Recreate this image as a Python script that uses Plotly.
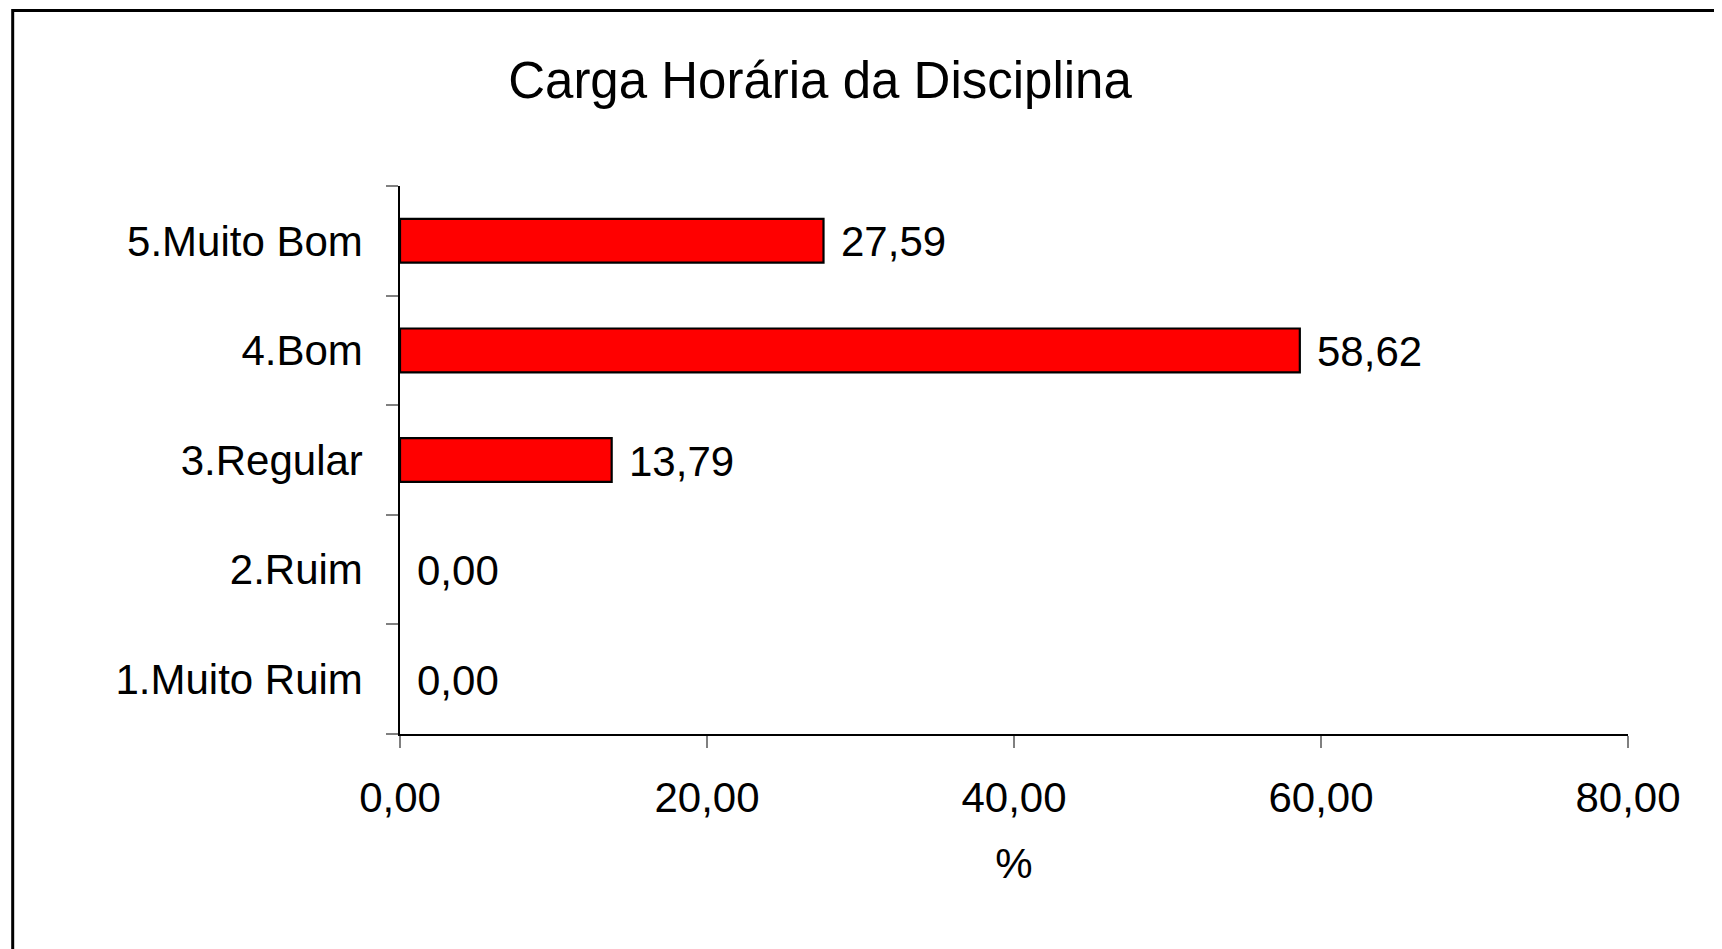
import plotly.graph_objects as go

categories = ["1.Muito Ruim", "2.Ruim", "3.Regular", "4.Bom", "5.Muito Bom"]
values = [0.00, 0.00, 13.79, 58.62, 27.59]
x_ticks = [0, 20, 40, 60, 80]
title_text = "Carga Horária da Disciplina"
x_title = "%"

OFF = 8  # page body margin
W, H = 1722 - OFF, 949 - OFF
L, R, T, B = 400 - OFF, 1628 - OFF, 186 - OFF, 734 - OFF
FONT = "Liberation Sans, Arial, sans-serif"

fig = go.Figure()
fig.add_trace(go.Bar(
    y=categories, x=values, orientation="h",
    marker=dict(color="#FF0000",
                line=dict(color="black", width=[0 if v == 0 else 2.2 for v in values])),
    width=0.4, hoverinfo="skip",
))

for c, v in zip(categories, values):
    fig.add_annotation(
        x=v, y=c, xref="x", yref="y", text=f"{v:.2f}".replace(".", ","),
        showarrow=False, xanchor="left", yanchor="middle", xshift=15, yshift=-1,
        font=dict(family=FONT, size=42, color="black"),
    )

pw, ph = R - L, B - T
def px_x(p): return (p - OFF - L) / pw
def px_y(p): return (B - (p - OFF)) / ph

fig.add_shape(type="rect", xref="paper", yref="paper",
              x0=px_x(12.7), x1=px_x(1740), y0=px_y(960), y1=px_y(10.5),
              line=dict(color="black", width=3), fillcolor="rgba(0,0,0,0)", layer="above")

fig.update_layout(
    width=W, height=H,
    margin=dict(l=L, r=W - R, t=T, b=H - B, pad=0),
    paper_bgcolor="white", plot_bgcolor="white",
    separators=",.",
    showlegend=False,
    font=dict(family=FONT, size=42, color="black"),
    title=dict(text=title_text, x=(820 - OFF) / W, xanchor="center", xref="container",
               y=1 - (80 - OFF) / H, yanchor="middle", yref="container",
               font=dict(family=FONT, size=51, color="black")),
    xaxis=dict(range=[0, 80], tickvals=x_ticks, tickformat=".2f",
               showgrid=False, zeroline=False, showline=True, linecolor="black", linewidth=1.5,
               ticks="outside", ticklen=12, tickwidth=1.5, tickcolor="#808080",
               ticklabelstandoff=14,
               tickfont=dict(family=FONT, size=42, color="black"),
               title=dict(text=x_title, standoff=28, font=dict(family=FONT, size=42, color="black"))),
    yaxis=dict(type="category", categoryorder="array", categoryarray=categories,
               range=[-0.5, 4.5], tickson="boundaries",
               showgrid=False, zeroline=False, showline=True, linecolor="black", linewidth=1.5,
               ticks="outside", ticklen=12, tickwidth=1.5, tickcolor="#808080",
               ticklabelstandoff=27,
               tickfont=dict(family=FONT, size=42, color="black")),
)

fig.write_html("out.html")
